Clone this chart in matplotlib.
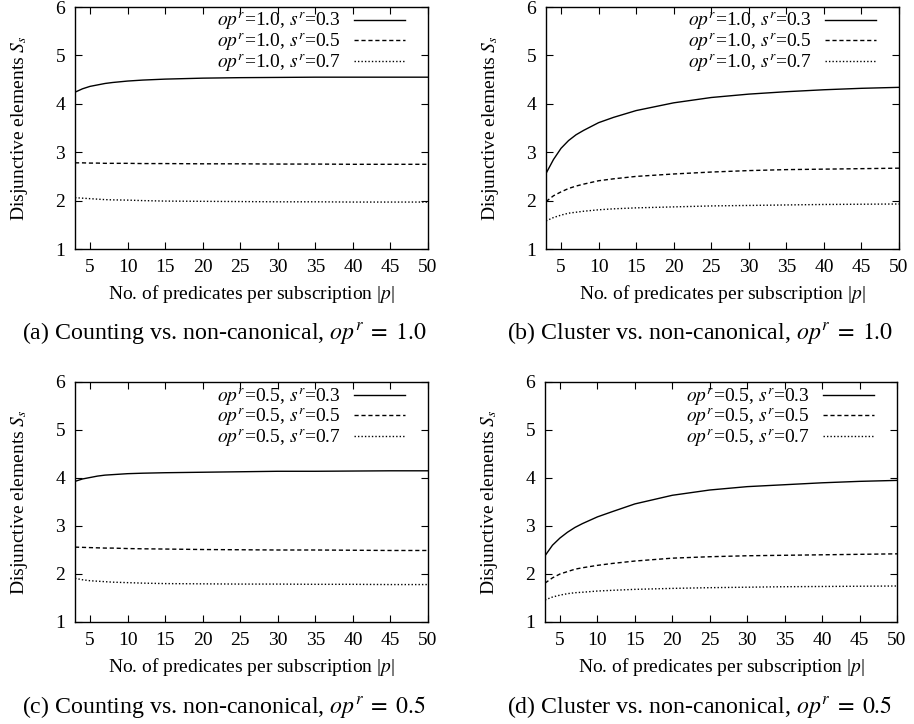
import matplotlib
matplotlib.use("Agg")
import matplotlib.pyplot as plt

plt.rcParams['font.family'] = ['Liberation Serif', 'DejaVu Serif']
plt.rcParams['mathtext.fontset'] = 'stix'

x = [3, 4, 5, 6, 7, 8, 10, 12, 15, 20, 25, 30, 35, 40, 45, 50]

# (a) Counting, op^r = 1.0
a_s03 = [4.24, 4.31, 4.36, 4.39, 4.42, 4.44, 4.47, 4.49, 4.51, 4.53, 4.54, 4.545, 4.55, 4.55, 4.55, 4.55]
a_s05 = [2.78, 2.78, 2.775, 2.775, 2.77, 2.77, 2.77, 2.765, 2.765, 2.76, 2.76, 2.755, 2.755, 2.75, 2.75, 2.75]
a_s07 = [2.06, 2.05, 2.04, 2.03, 2.02, 2.015, 2.01, 2.0, 1.99, 1.985, 1.98, 1.975, 1.975, 1.97, 1.97, 1.97]
# (b) Cluster, op^r = 1.0
b_s03 = [2.56, 2.85, 3.08, 3.24, 3.36, 3.45, 3.61, 3.72, 3.86, 4.02, 4.13, 4.2, 4.25, 4.29, 4.32, 4.34]
b_s05 = [1.98, 2.1, 2.18, 2.25, 2.3, 2.34, 2.41, 2.45, 2.5, 2.55, 2.59, 2.62, 2.64, 2.65, 2.66, 2.67]
b_s07 = [1.58, 1.65, 1.70, 1.74, 1.76, 1.78, 1.81, 1.83, 1.85, 1.87, 1.89, 1.90, 1.91, 1.92, 1.925, 1.93]
# (c) Counting, op^r = 0.5
c_s03 = [3.93, 3.98, 4.01, 4.04, 4.06, 4.07, 4.09, 4.10, 4.11, 4.12, 4.13, 4.14, 4.14, 4.145, 4.15, 4.15]
c_s05 = [2.56, 2.555, 2.55, 2.545, 2.54, 2.54, 2.53, 2.525, 2.52, 2.51, 2.505, 2.5, 2.5, 2.495, 2.49, 2.49]
c_s07 = [1.91, 1.88, 1.86, 1.85, 1.84, 1.83, 1.82, 1.81, 1.80, 1.795, 1.79, 1.79, 1.785, 1.785, 1.78, 1.78]
# (d) Cluster, op^r = 0.5
d_s03 = [2.38, 2.6, 2.75, 2.87, 2.97, 3.05, 3.19, 3.3, 3.46, 3.64, 3.75, 3.82, 3.86, 3.9, 3.93, 3.95]
d_s05 = [1.81, 1.92, 2.0, 2.05, 2.1, 2.13, 2.18, 2.22, 2.27, 2.33, 2.36, 2.38, 2.39, 2.40, 2.41, 2.42]
d_s07 = [1.46, 1.52, 1.56, 1.59, 1.61, 1.62, 1.645, 1.66, 1.68, 1.70, 1.715, 1.725, 1.735, 1.74, 1.745, 1.75]

xticks = [5, 10, 15, 20, 25, 30, 35, 40, 45, 50]
yticks = [1, 2, 3, 4, 5, 6]
sr_values = ['0.3', '0.5', '0.7']
captions = [r'(a) Counting vs. non-canonical, $op^r\;=\;1.0$',
            r'(b) Cluster vs. non-canonical, $op^r\;=\;1.0$',
            r'(c) Counting vs. non-canonical, $op^r\;=\;0.5$',
            r'(d) Cluster vs. non-canonical, $op^r\;=\;0.5$']
op_values = ['1.0', '1.0', '0.5', '0.5']
panels = [(a_s03, a_s05, a_s07), (b_s03, b_s05, b_s07),
          (c_s03, c_s05, c_s07), (d_s03, d_s05, d_s07)]

W, H = 914, 724
fig = plt.figure(figsize=(W / 100, H / 100), dpi=100)

# axes boxes in pixels: left, top, right, bottom
boxes = [(75, 7, 428, 249), (546, 7, 899, 249),
         (75, 382, 428, 622), (545, 382, 897, 622)]
cap_y = [333, 333, 707, 707]
cap_x = [224, 700, 224, 700]

styles = [dict(linestyle='-'), dict(linestyle=(0, (3, 2))), dict(linestyle=(0, (1, 1.5)))]

for i, (box, series) in enumerate(zip(boxes, panels)):
    l, t, r, b = box
    ax = fig.add_axes([l / W, 1 - b / H, (r - l) / W, (b - t) / H])
    for s, st, sv in zip(series, styles, sr_values):
        ax.plot(x, s, color='black', lw=1.0,
                label=r'$op^r$=' + op_values[i] + r', $s^r$=' + sv, **st)
    ax.set_xlim(3, 50)
    ax.set_ylim(1, 6)
    ax.set_xticks(xticks)
    ax.set_yticks(yticks)
    ax.tick_params(direction='in', top=True, right=True, length=5, width=0.8,
                   labelsize=14, pad=7)
    for sp in ax.spines.values():
        sp.set_linewidth(1.0)
    ax.set_xlabel(r'No. of predicates per subscription |$p$|', fontsize=14, labelpad=5)
    ax.set_ylabel(r'Disjunctive elements $S_s$', fontsize=14, labelpad=18)
    ax.legend(loc='upper right', bbox_to_anchor=(1 - 23 / (r - l), 1 - 4 / (b - t)),
              frameon=False, markerfirst=False, fontsize=14, handlelength=2.6,
              labelspacing=-0.05, borderpad=0, borderaxespad=0, handletextpad=0.7)
    fig.text(cap_x[i] / W, 1 - cap_y[i] / H, captions[i],
             ha='center', va='center', fontsize=17.2)

fig.savefig('out.png', dpi=100)
